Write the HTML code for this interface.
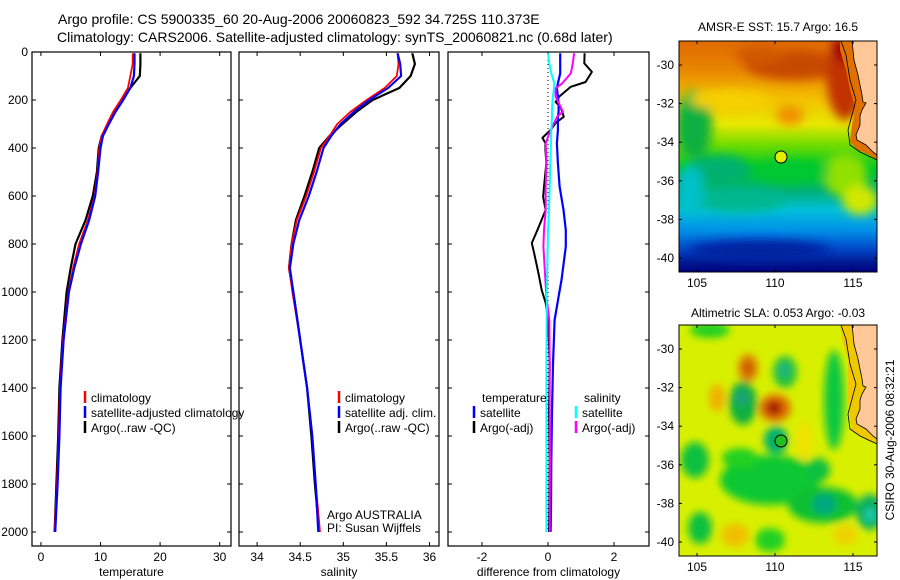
<!DOCTYPE html>
<html><head><meta charset="utf-8"><style>
html,body{margin:0;padding:0;background:#fff;}
svg{display:block;font-family:"Liberation Sans",sans-serif;}
</style></head><body>
<svg id="fig" width="900" height="580" viewBox="0 0 900 580">
<defs>
<filter id="blur1" filterUnits="userSpaceOnUse" x="600" y="0" width="300" height="580"><feGaussianBlur stdDeviation="5"/></filter>
<filter id="blur2" filterUnits="userSpaceOnUse" x="600" y="0" width="300" height="580"><feGaussianBlur stdDeviation="4"/></filter>
<clipPath id="clipM1"><rect x="679" y="41" width="198" height="231"/></clipPath>
<clipPath id="clipM2"><rect x="679" y="325" width="198" height="231"/></clipPath>
<linearGradient id="sstGrad" x1="0" y1="0" x2="0" y2="1">
<stop offset="0" stop-color="#e06a00"/><stop offset="0.12" stop-color="#e88400"/>
<stop offset="0.25" stop-color="#f4c000"/><stop offset="0.36" stop-color="#e8e800"/>
<stop offset="0.45" stop-color="#70dc00"/><stop offset="0.55" stop-color="#00c828"/>
<stop offset="0.65" stop-color="#00b078"/><stop offset="0.73" stop-color="#00c0d8"/>
<stop offset="0.82" stop-color="#0090e8"/><stop offset="0.9" stop-color="#0048c8"/>
<stop offset="0.96" stop-color="#001890"/><stop offset="1" stop-color="#000080"/>
</linearGradient>
</defs>
<g id="titles">
<text x="58" y="24" font-size="14">Argo profile: CS 5900335_60 20-Aug-2006 20060823_592 34.725S 110.373E</text>
<text x="57" y="42" font-size="14">Climatology: CARS2006. Satellite-adjusted climatology: synTS_20060821.nc (0.68d later)</text>
</g>
<g id="panels"></g>
<g id="map1">
<text x="778" y="31" font-size="12" text-anchor="middle">AMSR-E SST: 15.7 Argo: 16.5</text>
<g clip-path="url(#clipM1)">
<rect x="679" y="41" width="198" height="231" fill="url(#sstGrad)"/>
<g filter="url(#blur1)">
<ellipse cx="694" cy="125" rx="18" ry="35" fill="#10b040"/>
<ellipse cx="720" cy="170" rx="30" ry="15" fill="#00b070"/>
<ellipse cx="740" cy="200" rx="45" ry="12" fill="#00b890"/>
<ellipse cx="690" cy="190" rx="14" ry="25" fill="#00c0c8"/>
<ellipse cx="790" cy="115" rx="14" ry="10" fill="#f09000"/>
<ellipse cx="730" cy="100" rx="40" ry="10" fill="#f6d000"/>
<ellipse cx="795" cy="65" rx="50" ry="15" fill="#c84800"/>
<ellipse cx="760" cy="55" rx="25" ry="10" fill="#d05800"/>
<ellipse cx="845" cy="80" rx="18" ry="40" fill="#c03000"/>
<ellipse cx="845" cy="50" rx="14" ry="12" fill="#a00000"/>
<ellipse cx="845" cy="175" rx="22" ry="22" fill="#90e000"/>
<ellipse cx="860" cy="200" rx="18" ry="15" fill="#d0e800"/>
<ellipse cx="790" cy="172" rx="40" ry="12" fill="#00c830"/>
<ellipse cx="760" cy="250" rx="70" ry="10" fill="#0020a0"/>
</g>
<polygon points="852,41 853,50 854,60 858,75 862,95 863,102 866,103 862,110 860,116 860,125 856,135 857,140 866,145 873,152 877,155 877,160 870,155 858,150 850,142 852,125 856,110 850,90 846,70 840,50 840,41" fill="#e07000"/>
<polygon points="852,41 853,50 854,60 858,75 862,95 863,102 866,103 862,110 860,116 860,125 856,135 857,140 866,145 873,152 877,155 877,41" fill="#ffc896"/>
<polyline points="852,41 853,50 854,60 858,75 862,95 863,102 866,103 862,110 860,116 860,125 856,135 857,140 866,145 873,152 877,155" fill="none" stroke="#000" stroke-width="0.8"/>
<polyline points="841,41 846,55 850,80 856,100 852,115 848,130 850,145 860,152 877,160" fill="none" stroke="#000" stroke-width="0.8"/>
</g>
<rect x="679" y="41" width="198" height="231" fill="none" stroke="#000"/>
<circle cx="781" cy="157" r="6" fill="#e0f000" stroke="#000"/>
</g>
<g id="map2">
<text x="778" y="317" font-size="12" text-anchor="middle">Altimetric SLA: 0.053 Argo: -0.03</text>
<g clip-path="url(#clipM2)">
<rect x="679" y="325" width="198" height="231" fill="#d8f000"/>
<g filter="url(#blur2)">
<ellipse cx="710" cy="330" rx="20" ry="8" fill="#20d020"/>
<ellipse cx="748" cy="368" rx="10" ry="14" fill="#e08000"/>
<ellipse cx="748" cy="368" rx="5" ry="7" fill="#c85000"/>
<ellipse cx="717" cy="398" rx="8" ry="14" fill="#f0b000"/>
<ellipse cx="743" cy="403" rx="14" ry="22" fill="#10b040"/>
<ellipse cx="742" cy="398" rx="6" ry="8" fill="#20a080"/>
<ellipse cx="785" cy="372" rx="12" ry="16" fill="#20c040"/>
<ellipse cx="784" cy="370" rx="5" ry="6" fill="#20b090"/>
<ellipse cx="775" cy="408" rx="16" ry="14" fill="#e07000"/>
<ellipse cx="774" cy="408" rx="8" ry="7" fill="#a00000"/>
<ellipse cx="834" cy="400" rx="10" ry="50" fill="#10c840"/>
<ellipse cx="770" cy="480" rx="50" ry="25" fill="#10c830"/>
<ellipse cx="776" cy="440" rx="12" ry="14" fill="#00b070"/>
<ellipse cx="695" cy="460" rx="14" ry="18" fill="#10c040"/>
<ellipse cx="818" cy="470" rx="12" ry="12" fill="#10c040"/>
<ellipse cx="823" cy="505" rx="35" ry="18" fill="#10c030"/>
<ellipse cx="824" cy="504" rx="12" ry="10" fill="#00a880"/>
<ellipse cx="870" cy="512" rx="14" ry="18" fill="#10b060"/>
<ellipse cx="870" cy="515" rx="5" ry="6" fill="#20d0c0"/>
<ellipse cx="700" cy="528" rx="12" ry="16" fill="#10c040"/>
<ellipse cx="735" cy="535" rx="14" ry="12" fill="#f0c000"/>
<ellipse cx="770" cy="540" rx="15" ry="12" fill="#20d020"/>
<ellipse cx="804" cy="440" rx="8" ry="20" fill="#f0e000"/>
<ellipse cx="740" cy="458" rx="18" ry="10" fill="#20d020"/>
<ellipse cx="845" cy="535" rx="12" ry="10" fill="#f0d000"/>
</g>
<polygon points="852,325 853,334 854,344 858,359 862,379 863,386 866,387 862,394 860,400 860,409 856,419 857,424 866,429 873,436 877,439 877,444 866,440 852,430 848,400 848,360 842,340 840,325" fill="#f0c800"/>
<polygon points="852,325 853,334 854,344 858,359 862,379 863,386 866,387 862,394 860,400 860,409 856,419 857,424 866,429 873,436 877,439 877,325" fill="#ffc896"/>
<polyline points="852,325 853,334 854,344 858,359 862,379 863,386 866,387 862,394 860,400 860,409 856,419 857,424 866,429 873,436 877,439" fill="none" stroke="#000" stroke-width="0.8"/>
<polyline points="841,325 846,339 850,364 856,384 852,399 848,414 850,429 860,436 877,444" fill="none" stroke="#000" stroke-width="0.8"/>
</g>
<rect x="679" y="325" width="198" height="231" fill="none" stroke="#000"/>
<circle cx="781" cy="441" r="6" fill="#20c020" stroke="#000"/>
<text transform="translate(894,440) rotate(-90)" font-size="12" text-anchor="middle">CSIRO 30-Aug-2006 08:32:21</text>
</g>
</svg>
<script>
// Depth profiles (m)
const depths = [5, 50, 100, 150, 200, 250, 300, 350, 400, 500, 600, 700, 800, 900, 1000, 1200, 1400, 1600, 1800, 2000];
const tempArgo = [16.7, 16.7, 16.6, 15.0, 13.5, 12.3, 11.2, 10.2, 9.7, 9.4, 8.7, 7.5, 5.8, 5.0, 4.3, 3.6, 3.1, 2.9, 2.6, 2.3];
const tempClim = [15.4, 15.4, 15.0, 14.6, 13.4, 12.1, 11.1, 10.2, 9.8, 9.5, 9.0, 7.9, 6.4, 5.4, 4.6, 3.7, 3.2, 3.0, 2.7, 2.3];
const tempSat = [15.7, 15.7, 15.6, 15.0, 13.8, 12.5, 11.4, 10.4, 10.0, 9.6, 9.1, 8.1, 6.7, 5.6, 4.7, 3.8, 3.3, 3.1, 2.8, 2.4];
const salArgo = [35.80, 35.83, 35.78, 35.65, 35.34, 35.15, 34.99, 34.84, 34.72, 34.64, 34.55, 34.45, 34.40, 34.37, 34.42, 34.50, 34.58, 34.63, 34.67, 34.72];
const salClim = [35.63, 35.64, 35.62, 35.48, 35.27, 35.08, 34.93, 34.84, 34.74, 34.66, 34.57, 34.46, 34.40, 34.37, 34.41, 34.50, 34.58, 34.64, 34.68, 34.73];
const salSat = [35.63, 35.66, 35.67, 35.52, 35.30, 35.12, 34.97, 34.86, 34.77, 34.69, 34.60, 34.49, 34.42, 34.38, 34.42, 34.50, 34.58, 34.64, 34.68, 34.71];
// Differences from climatology
const diffDepthsT = [5, 47, 83, 125, 145, 187, 208, 229, 270, 296, 325, 358, 379, 408, 462, 562, 604, 658, 742, 796, 837, 921, 992, 1046, 1110, 1300, 1500, 1700, 1900, 2000];
const diffTArgo = [1.11, 1.10, 1.33, 1.14, 0.69, 0.33, 0.23, 0.38, 0.48, 0.23, 0.08, -0.17, -0.08, -0.08, -0.05, -0.12, -0.15, -0.07, -0.32, -0.49, -0.42, -0.29, -0.19, -0.07, 0.0, 0.05, 0.03, 0.05, 0.04, 0.03];
const diffDepthsS = [5, 47, 89, 131, 151, 186, 214, 249, 269, 325, 381, 464, 561, 658, 742, 811, 950, 1019, 1117, 1300, 1500, 1700, 1900, 2000];
const diffTSat = [0.37, 0.37, 0.37, 0.30, 0.27, 0.30, 0.32, 0.32, 0.30, 0.30, 0.27, 0.30, 0.35, 0.47, 0.54, 0.54, 0.41, 0.32, 0.20, 0.15, 0.12, 0.10, 0.09, 0.08];
const diffSSat = [0.0, 0.04, 0.10, 0.19, 0.18, 0.15, 0.13, 0.12, 0.12, 0.10, 0.09, 0.07, 0.05, 0.03, 0.0, -0.01, -0.03, -0.04, -0.04, -0.05, -0.05, -0.05, -0.05, -0.05];
const diffSArgo = [0.79, 0.75, 0.69, 0.43, 0.23, 0.23, 0.33, 0.45, 0.28, 0.08, -0.07, -0.05, -0.07, -0.07, -0.12, -0.14, -0.08, -0.05, 0.04, 0.05, 0.05, 0.06, 0.05, 0.05];
const depthTicks = [0, 200, 400, 600, 800, 1000, 1200, 1400, 1600, 1800, 2000];
const tempTicks = [0, 10, 20, 30];
const salTicks = [34, 34.5, 35, 35.5, 36];
const salTickLabels = ['34', '34.5', '35', '35.5', '36'];
const diffTicks = [-2, 0, 2];
const latTicks = [-30, -32, -34, -36, -38, -40];
const lonTicks = [105, 110, 115];

const NS = 'http://www.w3.org/2000/svg';
const root = document.getElementById('panels');
function mk(tag, attrs, parent) {
  const e = document.createElementNS(NS, tag);
  for (const k in attrs) e.setAttribute(k, attrs[k]);
  (parent || root).appendChild(e);
  return e;
}
const Y0 = 52, Y1 = 546;
function yD(d) { return Y0 + d * 0.24; }

const panels = [
  {x0: 32, x1: 231, lo: -1.5, hi: 31.9, name: 'temperature-panel', label: 'temperature', ticks: tempTicks, tl: tempTicks.map(String)},
  {x0: 239, x1: 439, lo: 33.79, hi: 36.11, name: 'salinity-panel', label: 'salinity', ticks: salTicks, tl: salTickLabels},
  {x0: 448, x1: 649, lo: -3.03, hi: 3.06, name: 'difference-panel', label: 'difference from climatology', ticks: diffTicks, tl: diffTicks.map(String)}
];
panels.forEach(function(p, i) {
  p.sx = function(v) { return p.x0 + (v - p.lo) / (p.hi - p.lo) * (p.x1 - p.x0); };
  const g = mk('g', {});
  
  
  p.g = g;
  mk('rect', {x: p.x0, y: Y0, width: p.x1 - p.x0, height: Y1 - Y0, fill: 'none', stroke: '#000', 'stroke-width': 1.2}, g);
  depthTicks.forEach(function(d) {
    const y = yD(d);
    mk('line', {x1: p.x0, x2: p.x0 + 4, y1: y, y2: y, stroke: '#000'}, g);
    mk('line', {x1: p.x1, x2: p.x1 - 4, y1: y, y2: y, stroke: '#000'}, g);
    if (i === 0) {
      const t = mk('text', {x: p.x0 - 4, y: y + 4, 'font-size': 12, 'text-anchor': 'end'}, g);
      t.textContent = d;
      
      
    }
  });
  p.ticks.forEach(function(v, k) {
    const x = p.sx(v);
    mk('line', {x1: x, x2: x, y1: Y0, y2: Y0 + 4, stroke: '#000'}, g);
    mk('line', {x1: x, x2: x, y1: Y1, y2: Y1 - 4, stroke: '#000'}, g);
    const t = mk('text', {x: x, y: 561, 'font-size': 12, 'text-anchor': 'middle'}, g);
    t.textContent = p.tl[k];
    
    
  });
  const xl = mk('text', {x: (p.x0 + p.x1) / 2, y: 576, 'font-size': 12, 'text-anchor': 'middle'}, g);
  xl.textContent = p.label;
  
  
});

function series(p, ds, vs, color, w, name) {
  const pts = ds.map(function(d, k) { return p.sx(vs[k]).toFixed(1) + ',' + yD(d).toFixed(1); }).join(' ');
  const l = mk('polyline', {points: pts, fill: 'none', stroke: color, 'stroke-width': w, 'stroke-linejoin': 'round'}, p.g);
  
  
}
mk('line', {x1: panels[2].sx(0), x2: panels[2].sx(0), y1: Y0, y2: yD(2000), stroke: '#000', 'stroke-dasharray': '1,3'}, panels[2].g);

series(panels[0], depths, tempArgo, '#000', 2.2, 'temp-argo-line');
series(panels[0], depths, tempClim, '#f00', 1.8, 'temp-climatology-line');
series(panels[0], depths, tempSat, '#00f', 2.2, 'temp-satellite-line');
series(panels[1], depths, salArgo, '#000', 2.2, 'sal-argo-line');
series(panels[1], depths, salClim, '#f00', 1.8, 'sal-climatology-line');
series(panels[1], depths, salSat, '#00f', 2.2, 'sal-satellite-line');
series(panels[2], diffDepthsT, diffTArgo, '#000', 2, 'diff-temp-argo-line');
series(panels[2], diffDepthsS, diffTSat, '#00f', 2.2, 'diff-temp-satellite-line');
series(panels[2], diffDepthsS, diffSArgo, '#f0f', 2, 'diff-sal-argo-line');
series(panels[2], diffDepthsS, diffSSat, '#0ff', 2, 'diff-sal-satellite-line');

function legend(g, x, y, color, text, name) {
  const e = mk('g', {}, g);
  
  
  if (color) mk('line', {x1: x, x2: x, y1: y - 11, y2: y + 1, stroke: color, 'stroke-width': 2.5}, e);
  const t = mk('text', {x: x + 6, y: y, 'font-size': 12}, e);
  t.textContent = text;
}
legend(panels[0].g, 85, 402, '#f00', 'climatology', 'legend-climatology');
legend(panels[0].g, 85, 417, '#00f', 'satellite-adjusted climatology', 'legend-satellite-adjusted');
legend(panels[0].g, 85, 432, '#000', 'Argo(..raw -QC)', 'legend-argo');
legend(panels[1].g, 339, 402, '#f00', 'climatology', 'legend-climatology');
legend(panels[1].g, 339, 417, '#00f', 'satellite adj. clim.', 'legend-satellite-adjusted');
legend(panels[1].g, 339, 432, '#000', 'Argo(..raw -QC)', 'legend-argo');
legend(panels[2].g, 476, 402, null, 'temperature', 'legend-temperature-heading');
legend(panels[2].g, 474, 417, '#00f', 'satellite', 'legend-temp-satellite');
legend(panels[2].g, 474, 432, '#000', 'Argo(-adj)', 'legend-temp-argo');
legend(panels[2].g, 578, 402, null, 'salinity', 'legend-salinity-heading');
legend(panels[2].g, 576, 417, '#0ff', 'satellite', 'legend-sal-satellite');
legend(panels[2].g, 576, 432, '#f0f', 'Argo(-adj)', 'legend-sal-argo');
const a1 = mk('text', {x: 327, y: 519, 'font-size': 12}, panels[1].g);
a1.textContent = 'Argo AUSTRALIA';


const a2 = mk('text', {x: 327, y: 532, 'font-size': 12}, panels[1].g);
a2.textContent = 'PI: Susan Wijffels';



const svg = document.getElementById('fig');
[{top: 41, lat30: 65, name: 'sst-map'}, {top: 325, lat30: 349, name: 'sla-map'}].forEach(function(m) {
  const g = document.createElementNS(NS, 'g');
  svg.appendChild(g);
  
  
  latTicks.forEach(function(la) {
    const y = m.lat30 + (-30 - la) * 19.3;
    mk('line', {x1: 679, x2: 682, y1: y, y2: y, stroke: '#000'}, g);
    mk('line', {x1: 877, x2: 874, y1: y, y2: y, stroke: '#000'}, g);
    const t = mk('text', {x: 674, y: y + 4, 'font-size': 12, 'text-anchor': 'end'}, g);
    t.textContent = String(la);
    
    
  });
  lonTicks.forEach(function(lo) {
    const x = 697 + (lo - 105) * 15.6;
    mk('line', {x1: x, x2: x, y1: m.top, y2: m.top + 3, stroke: '#000'}, g);
    mk('line', {x1: x, x2: x, y1: m.top + 231, y2: m.top + 228, stroke: '#000'}, g);
    const t = mk('text', {x: x, y: m.top + 246, 'font-size': 12, 'text-anchor': 'middle'}, g);
    t.textContent = String(lo);
    
    
  });
});
</script>
</body></html>
